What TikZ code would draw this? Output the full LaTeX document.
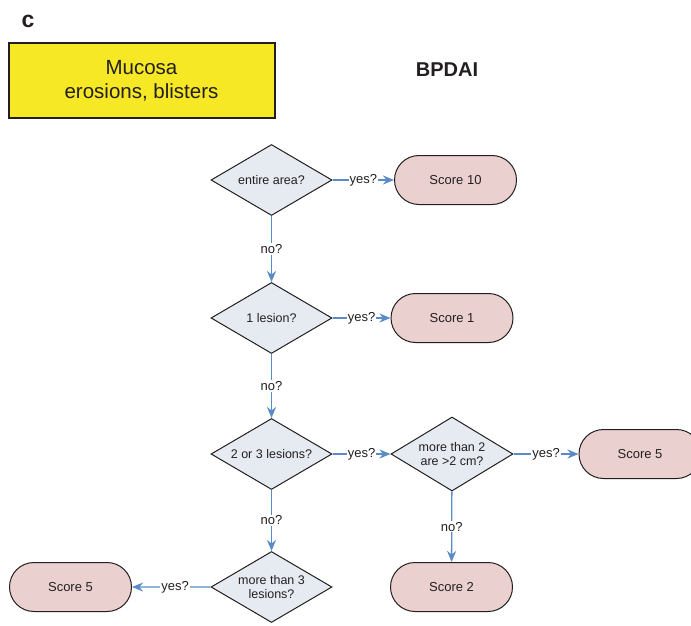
\documentclass[tikz,border=0pt]{standalone}
\usepackage{fontspec}
\setmainfont{Liberation Sans}
\usetikzlibrary{shapes.geometric,shapes.misc,arrows.meta}
\definecolor{dia}{HTML}{E6EBF2}
\definecolor{pill}{HTML}{EAD1D0}
\definecolor{arr}{HTML}{5B8BC6}
\definecolor{ink}{HTML}{231F20}
\definecolor{yel}{HTML}{F7E825}
\tikzset{
  dec/.style={diamond, shape aspect=1.7, draw=ink, fill=dia, line width=1pt, minimum width=121pt, minimum height=71pt, inner sep=0pt, align=center, font=\fontsize{12.5}{14.5}\selectfont, text=ink},
  res/.style={rounded rectangle, draw=ink, fill=pill, line width=1pt, minimum width=122pt, minimum height=49pt, inner sep=0pt, font=\fontsize{13}{15}\selectfont, text=ink},
  link/.style={draw=arr, line width=1.3pt, -{Stealth[length=11pt,width=9pt,inset=3.5pt]}},
  lab/.style={fill=white, inner sep=1pt, font=\fontsize{13}{15}\selectfont, text=ink}
}
\begin{document}
\begin{tikzpicture}[x=1pt,y=-1pt]
\useasboundingbox (0,0) rectangle (691,626);
\node[font=\bfseries\fontsize{23}{26}\selectfont, text=ink] (lc) at (28,21) {c};
\node[draw=ink, fill=yel, line width=2pt, minimum width=266pt, minimum height=74pt, inner sep=0pt, align=center, font=\fontsize{20.5}{24}\selectfont, text=ink] (muc) at (141.5,80.5) {Mucosa\\erosions, blisters};
\node[font=\bfseries\fontsize{20}{24}\selectfont, text=ink] (bp) at (447,70) {BPDAI};

\node[dec] (d1) at (271.5,180) {entire area?};
\node[res] (s10) at (455.5,180) {Score 10};
\node[dec] (d2) at (271.5,318) {1 lesion?};
\node[res] (s1) at (452,318) {Score 1};
\node[dec] (d3) at (271.5,454) {2 or 3 lesions?};
\node[dec, minimum width=122pt, minimum height=74pt] (d4) at (452,454) {more than 2\\are >2 cm?};
\node[res] (s5a) at (640,454) {Score 5};
\node[res] (s2) at (451.5,587) {Score 2};
\node[dec] (d5) at (271.5,587) {more than 3\\lesions?};
\node[res] (s5b) at (70.5,587) {Score 5};

\draw[link] (d1) -- node[lab] {yes?} (s10);
\draw[link] (d1) -- node[lab] {no?} (d2);
\draw[link] (d2) -- node[lab] {yes?} (s1);
\draw[link] (d2) -- node[lab] {no?} (d3);
\draw[link] (d3) -- node[lab] {yes?} (d4);
\draw[link] (d4) -- node[lab] {yes?} (s5a);
\draw[link] (d4) -- node[lab] {no?} (s2);
\draw[link] (d3) -- node[lab] {no?} (d5);
\draw[link] (d5) -- node[lab, pos=0.45] {yes?} (s5b);
\end{tikzpicture}
\end{document}
